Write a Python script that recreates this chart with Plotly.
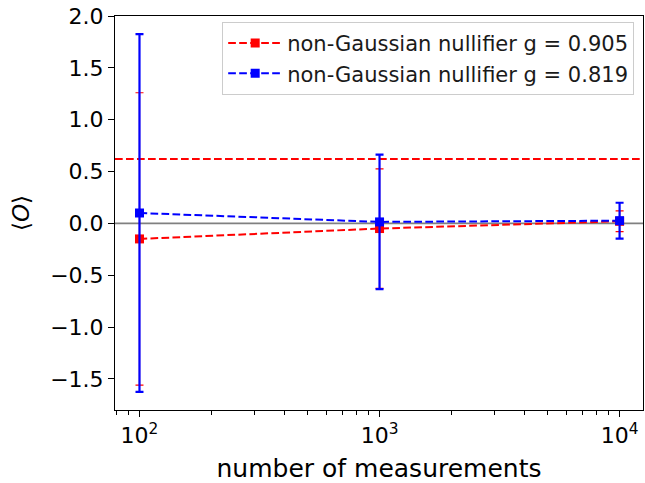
import plotly.graph_objects as go

n_meas = [100, 1000, 10000]
red_mean = [-0.15, -0.05, 0.02]
red_err = [1.41, 0.576, 0.10]
blue_mean = [0.10, 0.014, 0.026]
blue_err = [1.725, 0.649, 0.173]
red_label = "non-Gaussian nullifier g = 0.905"
blue_label = "non-Gaussian nullifier g = 0.819"
ref_level = 0.62
y_ticks = [-1.5, -1.0, -0.5, 0.0, 0.5, 1.0, 1.5, 2.0]
x_ticks = [100, 1000, 10000]
x_ticktext = ["10<sup>2</sup>", "10<sup>3</sup>", "10<sup>4</sup>"]
x_minor = [80, 90, 200, 300, 400, 500, 600, 700, 800, 900,
           2000, 3000, 4000, 5000, 6000, 7000, 8000, 9000, 20000]

font = "DejaVu Sans"
dash = "7.7px,3.3px"
fig = go.Figure()

for mean, err, col, lab, thick in [(red_mean, red_err, "#ff0000", red_label, 1.2),
                                   (blue_mean, blue_err, "#0000ff", blue_label, 2.2)]:
    fig.add_trace(go.Scatter(
        x=n_meas, y=mean, mode="lines+markers", name=lab,
        line=dict(color=col, width=2, dash=dash),
        marker=dict(symbol="square", size=9, color=col),
        error_y=dict(type="data", array=err, visible=True, color=col,
                     thickness=thick, width=4),
    ))

fig.add_shape(type="line", xref="paper", yref="y", x0=0, x1=1, y0=0, y1=0,
              line=dict(color="gray", width=1.7), layer="below")
fig.add_shape(type="line", xref="paper", yref="y", x0=0, x1=1, y0=ref_level, y1=ref_level,
              line=dict(color="#ff0000", width=2, dash=dash), layer="below")

fig.update_layout(
    width=645, height=483,
    margin=dict(l=115, r=2, t=16, b=73),
    plot_bgcolor="white", paper_bgcolor="white",
    font=dict(family=font, size=22, color="black"),
    showlegend=True,
    legend=dict(x=0.203, y=0.985, xanchor="left", yanchor="top",
                bgcolor="rgba(255,255,255,0.8)", bordercolor="#cccccc", borderwidth=1,
                font=dict(size=21, color="#1a1a1a"), itemwidth=54, tracegroupgap=0),
)
fig.update_xaxes(
    type="log", range=[1.898, 4.0975],
    tickvals=x_ticks, ticktext=x_ticktext,
    showgrid=False, zeroline=False,
    showline=True, linecolor="black", linewidth=1.1, mirror=True,
    ticks="outside", ticklen=6, tickwidth=1.1, tickcolor="black",
    minor=dict(tickvals=x_minor, ticks="outside", ticklen=3.5, tickwidth=0.9,
               tickcolor="black", showgrid=False),
    title=dict(text="number of measurements", font=dict(size=25), standoff=12),
)
fig.update_yaxes(
    range=[-1.8, 2.0],
    tickvals=y_ticks, tickformat=".1f",
    showgrid=False, zeroline=False,
    showline=True, linecolor="black", linewidth=1.1, mirror=True,
    ticks="outside", ticklen=6, tickwidth=1.1, tickcolor="black",
    title=dict(text="⟨<i>O</i>⟩", font=dict(size=23), standoff=14),
)

fig.write_html("out.html")
